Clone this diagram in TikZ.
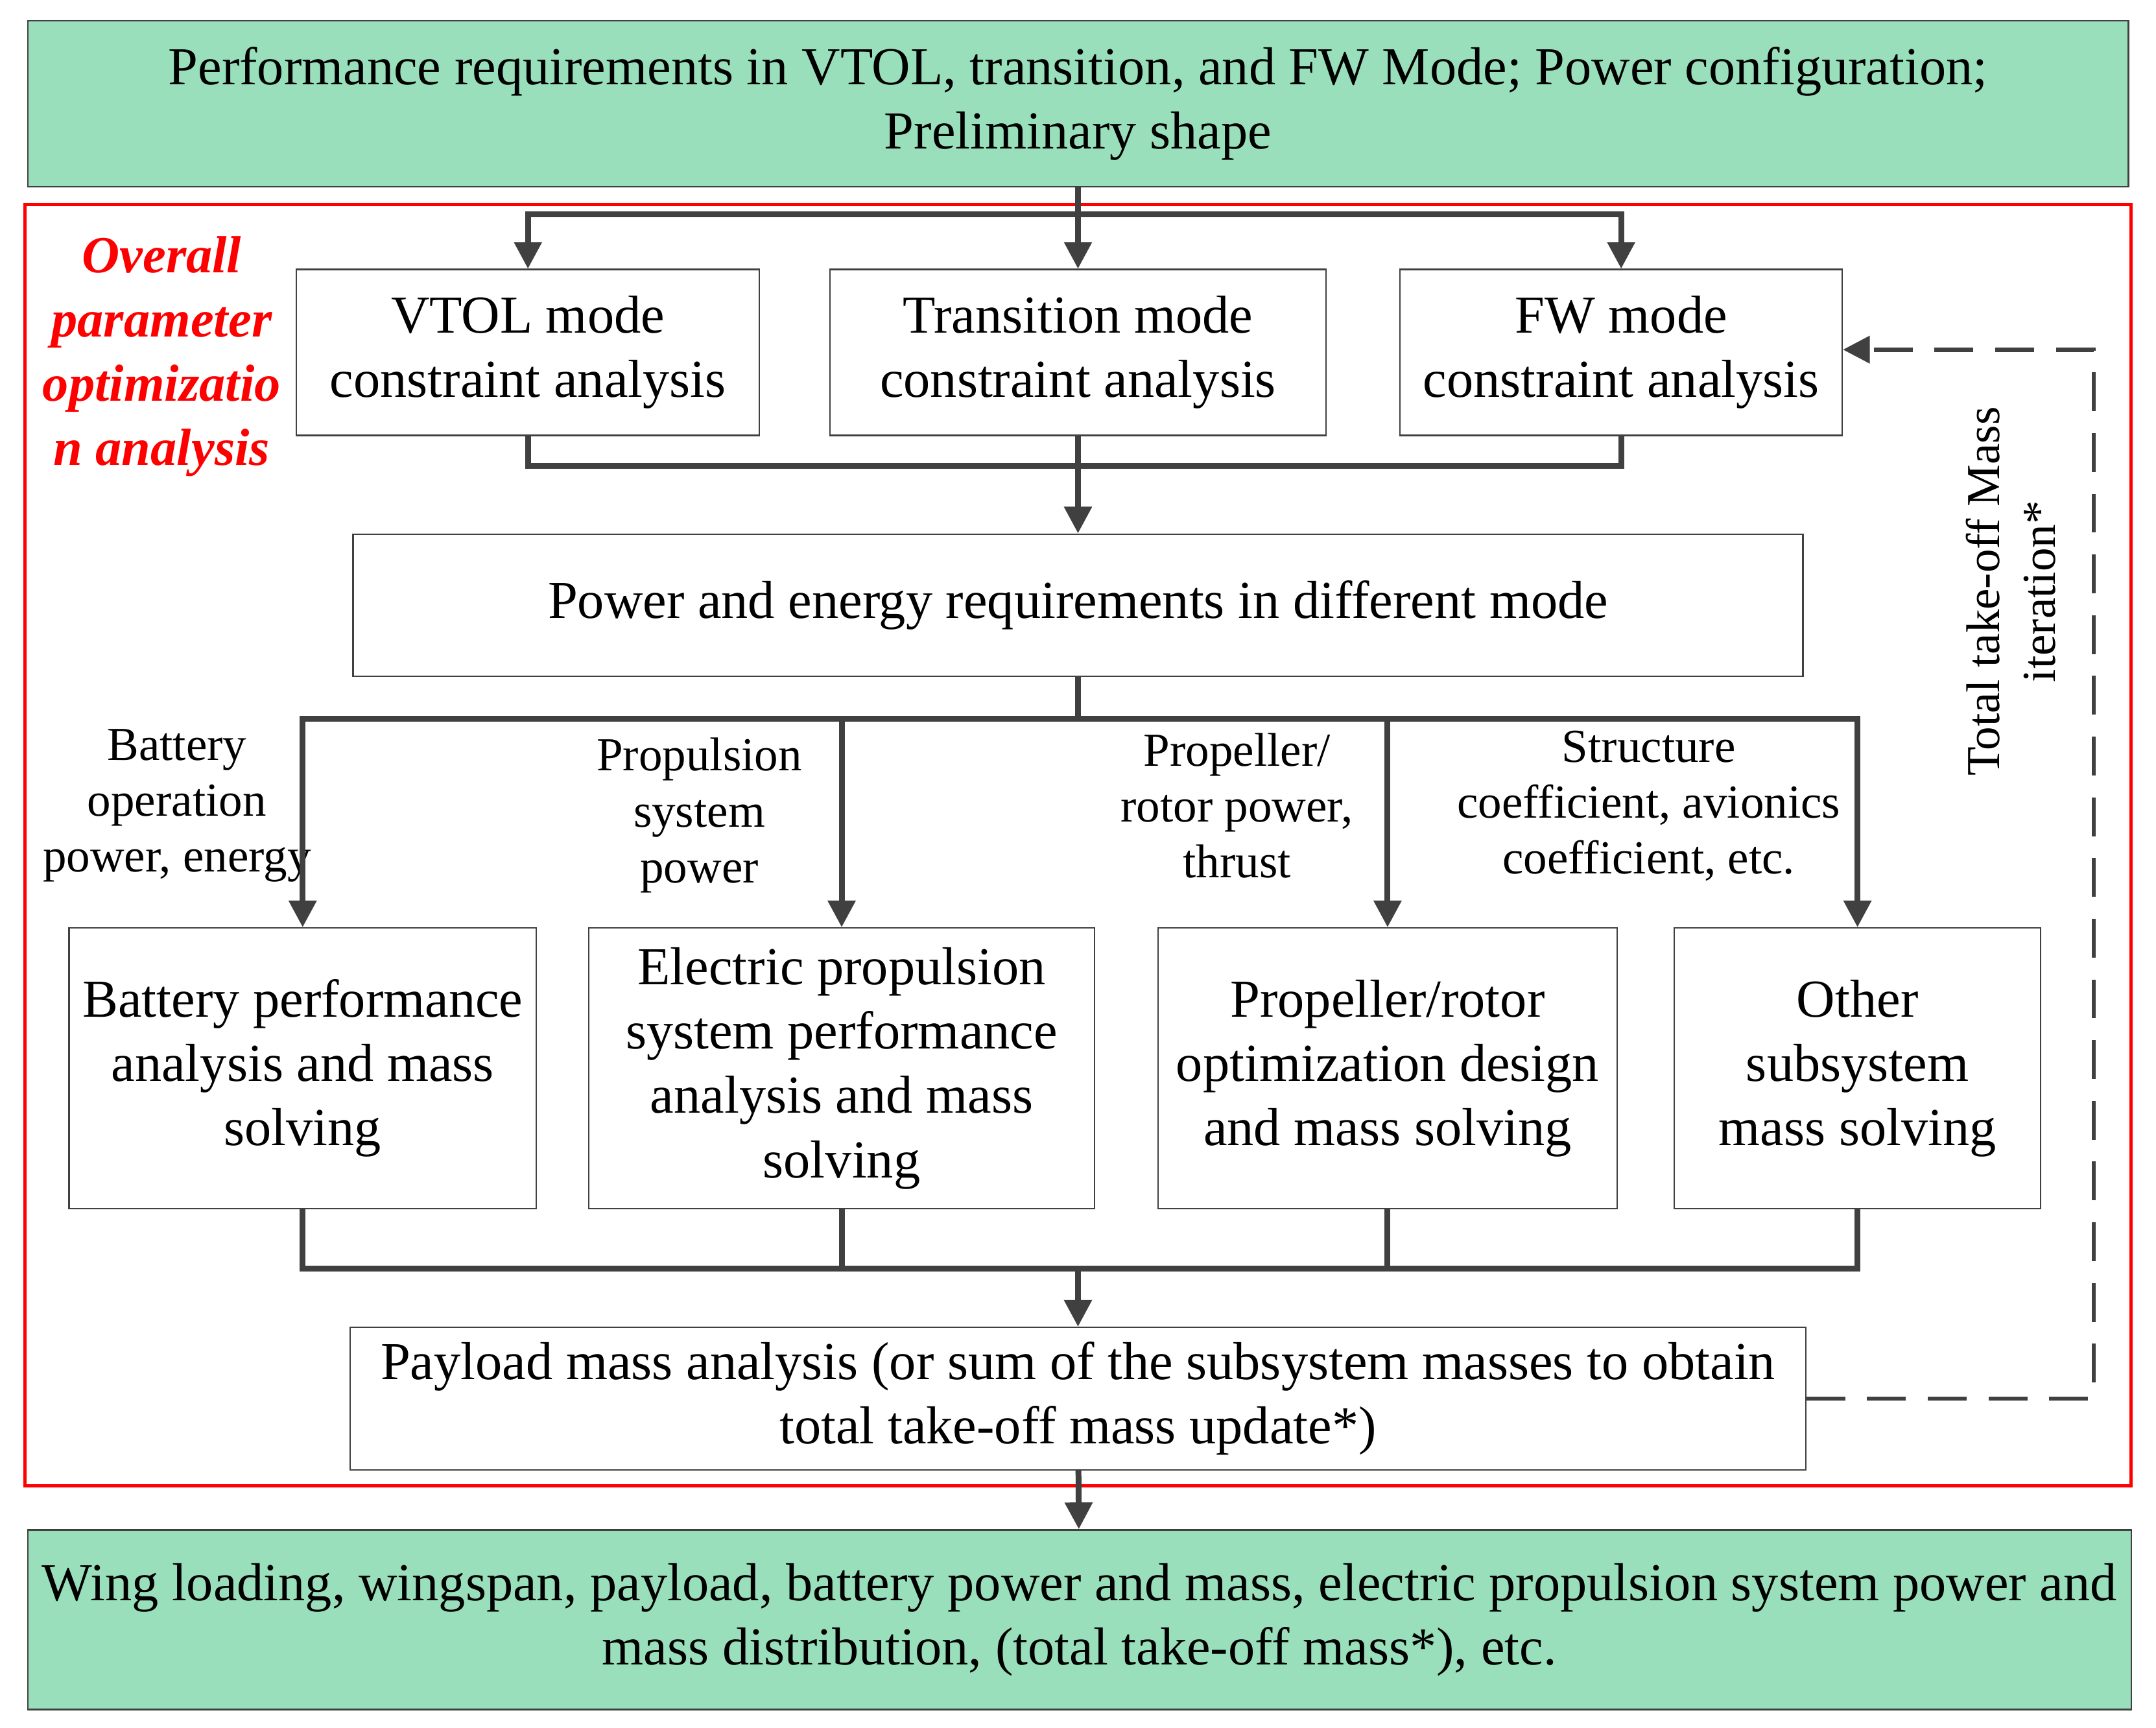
\documentclass[tikz,border=0pt]{standalone}
\usepackage{fontspec}
\setmainfont{Liberation Serif}
\usetikzlibrary{arrows.meta}
\definecolor{boxgreen}{HTML}{9ADFBB}
\definecolor{linegray}{HTML}{404040}
\begin{document}
\begin{tikzpicture}[
            x = 0.02cm, y = -0.02cm, % pixel grid, y downwards
            > = {Triangle[length=11pt,width=11pt]}, % arrow head style
            flow/.style = {draw=linegray, line width=2.4pt},
            box/.style = {draw=black!75, line width=0.6pt, align=center,
                          font=\fontsize{22}{26.5}\selectfont, inner sep=0pt},
            greenbox/.style = {box, fill=boxgreen},
            lbl/.style = {align=center, font=\fontsize{19.5}{23}\selectfont}
        ]
\useasboundingbox (0,0) rectangle (1560,1250);

% boxes
\node[greenbox, minimum width=1520*0.02cm, minimum height=120*0.02cm] (req) at (780,75)
  {Performance requirements in VTOL, transition, and FW Mode; Power configuration;\\Preliminary shape};
\draw[red, line width=1.4pt] (18,148) rectangle (1542,1075);
\node[box, minimum width=335*0.02cm, minimum height=120*0.02cm] (vtol) at (382,255) {VTOL mode\\constraint analysis};
\node[box, minimum width=359*0.02cm, minimum height=120*0.02cm] (trans) at (780,255) {Transition mode\\constraint analysis};
\node[box, minimum width=320*0.02cm, minimum height=120*0.02cm] (fw) at (1173,255) {FW mode\\constraint analysis};
\node[box, minimum width=1049*0.02cm, minimum height=103*0.02cm] (power) at (780,438) {Power and energy requirements in different mode};
\node[box, minimum width=338*0.02cm, minimum height=203*0.02cm] (bat) at (219,773) {Battery performance\\analysis and mass\\solving};
\node[box, minimum width=366*0.02cm, minimum height=203*0.02cm] (elec) at (609,773) {Electric propulsion\\system performance\\analysis and mass\\solving};
\node[box, minimum width=332*0.02cm, minimum height=203*0.02cm] (prop) at (1004,773) {Propeller/rotor\\optimization design\\and mass solving};
\node[box, minimum width=265*0.02cm, minimum height=203*0.02cm] (other) at (1344,773) {Other\\subsystem\\mass solving};
\node[box, minimum width=1053*0.02cm, minimum height=103*0.02cm] (pay) at (780,1012) {Payload mass analysis (or sum of the subsystem masses to obtain\\total take-off mass update*)};
\node[greenbox, minimum width=1522*0.02cm, minimum height=130*0.02cm] (res) at (781,1172)
  {Wing loading, wingspan, payload, battery power and mass, electric propulsion system power and\\mass distribution, (total take-off mass*), etc.};

% labels
\node[align=center, text=red, font=\fontsize{21.5}{26.5}\selectfont\bfseries\itshape] (title) at (117,258)
  {Overall\\parameter\\optimizatio\\n analysis};
\node[lbl] (lbat) at (128,583) {Battery\\operation\\power, energy};
\node[lbl] (lelec) at (506,590) {Propulsion\\system\\power};
\node[lbl] (lprop) at (895,583) {Propeller/\\rotor power,\\thrust};
\node[lbl] (lother) at (1193,583) {Structure\\coefficient, avionics\\coefficient, etc.};
\node[lbl, rotate=90] (liter) at (1455,428) {Total take-off Mass\\iteration*};

% junctions
\coordinate (s1) at (780,155);
\coordinate (j1) at (780,337);
\coordinate (s2) at (780,520);
\coordinate (j2) at (780,918);
\coordinate (d1) at (1515,1012);
\coordinate (d2) at (1515,253);

% connectors
\draw[flow] (req) -- (s1);
\draw[flow, ->] (s1) -- (trans);
\draw[flow, ->] (s1) -| (vtol);
\draw[flow, ->] (s1) -| (fw);
\draw[flow] (vtol) |- (j1) -| (fw);
\draw[flow] (trans) -- (j1);
\draw[flow, ->] (j1) -- (power);
\draw[flow] (power) -- (s2);
\draw[flow, ->] (s2) -| (bat);
\draw[flow, ->] (s2) -| (elec);
\draw[flow, ->] (s2) -| (prop);
\draw[flow, ->] (s2) -| (other);
\draw[flow] (bat) |- (j2) -| (other);
\draw[flow] (elec) -- (elec |- j2);
\draw[flow] (prop) -- (prop |- j2);
\draw[flow, ->] (j2) -- (pay);
\draw[flow, ->] (pay) -- (res);
\draw[flow, dashed, dash pattern=on 16pt off 9pt, line width=1.8pt, ->] (pay.east) -- (d1) -- (d2) -- (fw.east |- d2);
\end{tikzpicture}
\end{document}
